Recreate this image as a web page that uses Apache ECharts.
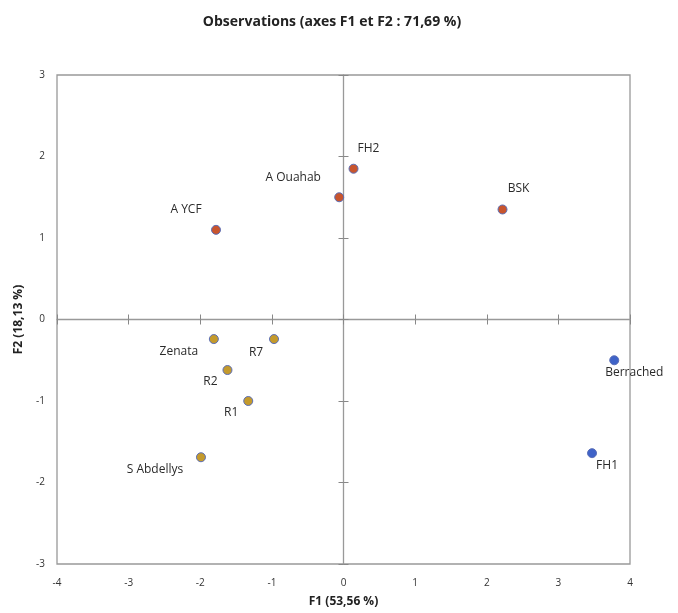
<!DOCTYPE html>
<html>
<head>
<meta charset="utf-8">
<script src="https://cdn.jsdelivr.net/npm/echarts@6/dist/echarts.min.js"></script>
<style>
  html, body { margin: 0; padding: 0; background: #fff; }
  #chart { width: 678px; height: 613px; }
</style>
</head>
<body>
<div id="chart"></div>
<script>
// Observation scores on the first two factorial axes
const titleText = 'Observations (axes F1 et F2 : 71,69 %)';
const xAxisName = 'F1 (53,56 %)';
const yAxisName = 'F2 (18,13 %)';

const xTicks = [-4, -3, -2, -1, 0, 1, 2, 3, 4];
const yTicks = [-3, -2, -1, 0, 1, 2, 3];

// Group 1 (red)
const redNames = ['FH2', 'A Ouahab', 'A YCF', 'BSK'];
const redF1 = [0.14, -0.06, -1.78, 2.22];
const redF2 = [1.85, 1.50, 1.10, 1.35];

// Group 2 (gold)
const goldNames = ['Zenata', 'R7', 'R2', 'R1', 'S Abdellys'];
const goldF1 = [-1.81, -0.97, -1.62, -1.33, -1.99];
const goldF2 = [-0.24, -0.24, -0.62, -1.00, -1.69];

// Group 3 (blue)
const blueNames = ['Berrached', 'FH1'];
const blueF1 = [3.78, 3.47];
const blueF2 = [-0.50, -1.64];

// Label offsets from each point, in pixels
const labelOffsets = {
  'FH2': [15, -20], 'A Ouahab': [-46, -20], 'A YCF': [-30, -20], 'BSK': [16, -21],
  'Zenata': [-35, 13], 'R7': [-18, 14], 'R2': [-17, 12], 'R1': [-17, 12],
  'S Abdellys': [-46, 12], 'Berrached': [20, 12], 'FH1': [15, 12]
};

const font = '"Open Sans", "Liberation Sans", sans-serif';

function buildData(names, xs, ys) {
  return names.map((n, i) => ({
    name: n,
    value: [xs[i], ys[i]],
    label: { offset: labelOffsets[n] }
  }));
}

function group(names, xs, ys, fill) {
  return {
    type: 'scatter',
    symbolSize: 9,
    itemStyle: { color: fill, borderColor: '#5b6fb8', borderWidth: 1, opacity: 1 },
    label: {
      show: true,
      position: 'inside',
      formatter: p => p.name,
      color: '#2a2a2a',
      fontSize: 12,
      fontFamily: font
    },
    data: buildData(names, xs, ys)
  };
}

const range = (t) => ({ min: t[0], max: t[t.length - 1], interval: 1 });

const chart = echarts.init(document.getElementById('chart'));
chart.setOption({
  animation: false,
  title: {
    text: titleText,
    left: 327,
    top: 10,
    textAlign: 'center',
    textStyle: { fontSize: 14, fontWeight: 'bold', color: '#222', fontFamily: font }
  },
  grid: {
    left: 57, right: 48, top: 75, bottom: 49,
    show: true, borderColor: '#999', borderWidth: 1.3, backgroundColor: '#fff'
  },
  xAxis: [
    {
      type: 'value', ...range(xTicks), position: 'bottom',
      axisLine: { show: false, onZero: false },
      axisTick: { show: false },
      splitLine: { show: false },
      axisLabel: { fontSize: 10, color: '#333', margin: 14, fontFamily: font },
      name: xAxisName, nameLocation: 'middle', nameGap: 32,
      nameTextStyle: { fontSize: 12, fontWeight: 'bold', color: '#222', fontFamily: font }
    },
    {
      type: 'value', ...range(xTicks),
      axisLine: { show: true, onZero: true, onZeroAxisIndex: 0, lineStyle: { color: '#999', width: 1.3 } },
      axisTick: { show: true, length: 5, lineStyle: { color: '#888' } },
      axisLabel: { show: false }, splitLine: { show: false }
    },
    {
      type: 'value', ...range(xTicks),
      axisLine: { show: false, onZero: true, onZeroAxisIndex: 0 },
      axisTick: { show: true, inside: true, length: 5, lineStyle: { color: '#888' } },
      axisLabel: { show: false }, splitLine: { show: false }
    }
  ],
  yAxis: [
    {
      type: 'value', ...range(yTicks), position: 'left',
      axisLine: { show: false, onZero: false },
      axisTick: { show: false },
      splitLine: { show: false },
      axisLabel: { fontSize: 10, color: '#333', margin: 12, fontFamily: font },
      name: yAxisName, nameLocation: 'middle', nameGap: 32, nameRotate: 90,
      nameTextStyle: { fontSize: 12, fontWeight: 'bold', color: '#222', fontFamily: font }
    },
    {
      type: 'value', ...range(yTicks),
      axisLine: { show: true, onZero: true, onZeroAxisIndex: 0, lineStyle: { color: '#999', width: 1.3 } },
      axisTick: { show: true, length: 5, lineStyle: { color: '#888' } },
      axisLabel: { show: false }, splitLine: { show: false }
    },
    {
      type: 'value', ...range(yTicks),
      axisLine: { show: false, onZero: true, onZeroAxisIndex: 0 },
      axisTick: { show: true, inside: true, length: 5, lineStyle: { color: '#888' } },
      axisLabel: { show: false }, splitLine: { show: false }
    }
  ],
  series: [
    group(redNames, redF1, redF2, '#c8552e'),
    group(goldNames, goldF1, goldF2, '#c49a2c'),
    group(blueNames, blueF1, blueF2, '#3f63c8')
  ]
});
</script>
</body>
</html>
